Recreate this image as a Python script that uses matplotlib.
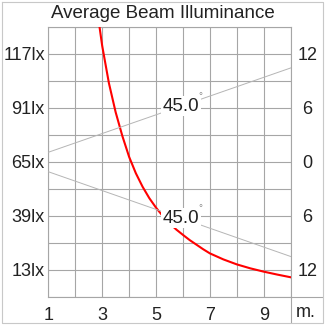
import matplotlib
matplotlib.use("Agg")
import matplotlib.pyplot as plt
from matplotlib.lines import Line2D

plt.rcParams['font.family'] = ['Liberation Sans', 'DejaVu Sans']

# illuminance curve (distance in m, lux)
distance_m = [2.75, 3.0, 3.25, 3.5, 3.75, 4.0, 4.25, 4.5, 4.75, 5.0, 5.25, 5.5, 5.75, 6.0,
              6.25, 6.5, 6.75, 7.0, 7.5, 8.0, 8.5, 9.0, 9.5, 10.0]
lux = [144, 121, 103, 89, 77.5, 67.5, 59.6, 53.1, 47.6, 43.0, 39.0, 35.5, 32.5, 29.9,
       27.4, 25.2, 23.0, 21.0, 18.1, 15.7, 13.8, 12.2, 10.8, 9.5]

# beam edges (half width in m) at 45 degree beam
beam_dist = [1, 10]
beam_upper = [1.08, 10.45]
beam_lower = [-1.08, -10.5]
beam_label = "45.0"
label_dist = 5.93

x_ticks = [1, 2, 3, 4, 5, 6, 7, 8, 9, 10]
x_labels = ["1", "", "3", "", "5", "", "7", "", "9", ""]
lux_ticks = [0, 13, 26, 39, 52, 65, 78, 91, 104, 117, 130]
lux_labels = ["", "13lx", "", "39lx", "", "65lx", "", "91lx", "", "117lx", ""]
width_ticks = [12, 6, 0, -6, -12]
width_labels = ["12", "6", "0", "6", "12"]

grid_c = "#a6a6a6"
text_c = "#222222"

fig = plt.figure(figsize=(3.25, 3.25), dpi=100)
ax = fig.add_axes([48.3 / 325, 28 / 325, 242.4 / 325, 270 / 325])

ax.plot(distance_m, lux, color="red", lw=1.5, zorder=3)
ax.set_xlim(1, 10)
ax.set_ylim(0, 130)
ax.set_xticks(x_ticks)
ax.set_xticklabels(x_labels)
ax.set_yticks(lux_ticks)
ax.set_yticklabels(lux_labels)
ax.grid(True, color=grid_c, lw=0.8)
ax.set_axisbelow(True)
ax.tick_params(length=0, labelsize=13, colors=text_c)
ax.tick_params(axis="x", pad=7)
ax.tick_params(axis="y", pad=2.5)
for s in ax.spines.values():
    s.set_color(grid_c)
    s.set_linewidth(0.8)

ax2 = ax.twinx()
ax2.set_ylim(-15, 15)
ax2.set_yticks(width_ticks)
ax2.set_yticklabels(width_labels)
ax2.tick_params(length=0, labelsize=13, colors=text_c, pad=12)
for lbl in ax2.get_yticklabels():
    lbl.set_horizontalalignment("center")
for s in ax2.spines.values():
    s.set_visible(False)

ax2.plot(beam_dist, beam_upper, color="#b5b5b5", lw=0.7)
ax2.plot(beam_dist, beam_lower, color="#b5b5b5", lw=0.7)
for edge in (beam_upper, beam_lower):
    y = edge[0] + (edge[1] - edge[0]) * (label_dist - beam_dist[0]) / (beam_dist[1] - beam_dist[0])
    ax2.text(label_dist, y, beam_label, fontsize=13.5, color=text_c, ha="center", va="center",
             bbox=dict(boxstyle="square,pad=0.08", fc="white", ec="none"), zorder=5)
    ax2.annotate("°", (label_dist, y), xytext=(14, 7), textcoords="offset points",
                 fontsize=7, color="#888888", ha="center", va="center", zorder=6)

# unit label in the cell right of the x axis
ax.text(1.0 + 5 / 242.4, -15.5 / 270, "m.", transform=ax.transAxes, fontsize=13,
        color=text_c, ha="left", va="center")

fig.text(162.5 / 325, 1 - 13 / 325, "Average Beam Illuminance", fontsize=13.5,
         color=text_c, ha="center", va="center")

# extension lines and outer frame
fig.add_artist(Line2D([290.7 / 325, 290.7 / 325], [3 / 325, 28 / 325], color=grid_c, lw=0.8))
fig.add_artist(Line2D([290.7 / 325, 322 / 325], [28 / 325, 28 / 325], color=grid_c, lw=0.8))
fig.add_artist(Line2D([1.5 / 325, 322.5 / 325, 322.5 / 325, 1.5 / 325, 1.5 / 325],
                      [323.5 / 325, 323.5 / 325, 2.5 / 325, 2.5 / 325, 323.5 / 325],
                      color="#c8c8c8", lw=0.8))

fig.savefig("out.png", dpi=100)
